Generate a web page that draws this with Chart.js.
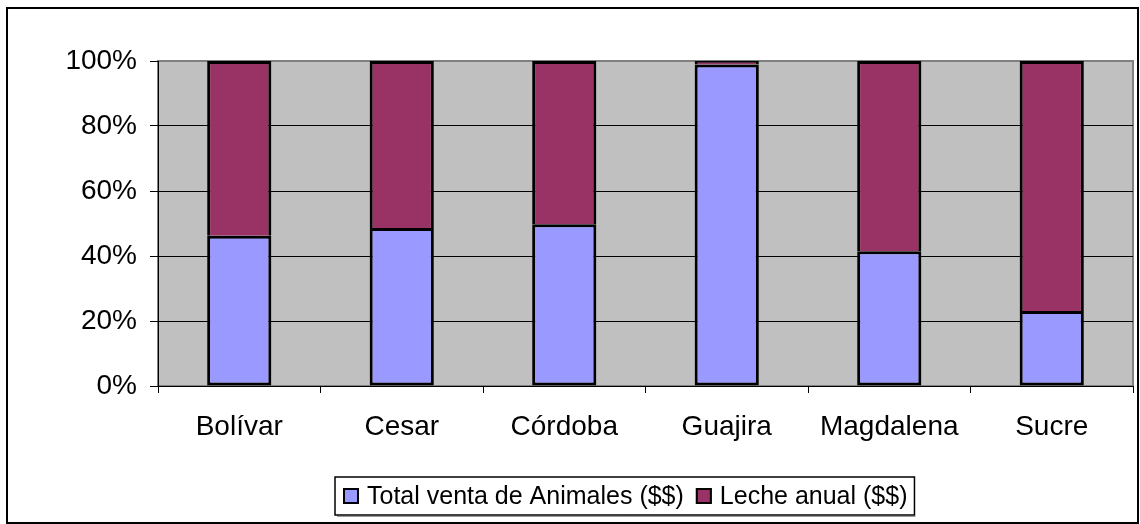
<!DOCTYPE html>
<html>
<head>
<meta charset="utf-8">
<script src="https://cdn.jsdelivr.net/npm/chart.js@4"></script>
<style>
  html, body { margin: 0; padding: 0; background: #fff; }
  #wrap { width: 1140px; height: 524px; }
</style>
</head>
<body>
<div id="wrap"><canvas id="ventasChart" width="1140" height="524"></canvas></div>
<script>
// departamentos
var categorias = ['Bolívar', 'Cesar', 'Córdoba', 'Guajira', 'Magdalena', 'Sucre'];
// porcentajes
var ventaAnimales = [46.2, 48.6, 49.8, 98.9, 41.5, 23.1];
var lecheAnual = [53.8, 51.4, 50.2, 1.1, 58.5, 76.9];
var ticksY = [0, 20, 40, 60, 80, 100];

var fuente = 'Liberation Sans, Arial, sans-serif';

// fondo gris del area de trazado, marco exterior y leyenda con recuadro
var fondoPlugin = {
  id: 'fondo',
  beforeDraw: function(chart) {
    var c = chart.ctx, a = chart.chartArea;
    c.save();
    c.fillStyle = '#fff';
    c.fillRect(0, 0, chart.width, chart.height);
    c.fillStyle = '#C0C0C0';
    c.fillRect(a.left, a.top, a.right - a.left, a.bottom - a.top);
    c.strokeStyle = '#808080';
    c.lineWidth = 2;
    c.strokeRect(a.left, a.top, a.right - a.left, a.bottom - a.top);
    c.restore();
  },
  afterDraw: function(chart) {
    var c = chart.ctx;
    c.save();
    c.strokeStyle = '#000';
    c.lineWidth = 2;
    c.strokeRect(7, 8, chart.width - 9, chart.height - 9);

    // leyenda
    var x = 343, yc = 496;
    c.font = '25px ' + fuente;
    c.textBaseline = 'middle';
    c.textAlign = 'left';
    chart.data.datasets.forEach(function(ds, i) {
      c.fillStyle = ds.backgroundColor;
      c.fillRect(x, yc - 8, 16, 16);
      c.strokeStyle = '#000';
      c.lineWidth = 2;
      c.strokeRect(x + 1, yc - 7, 14, 14);
      c.fillStyle = '#000';
      c.fillText(ds.label, x + 24, yc + 1);
      x += 24 + c.measureText(ds.label).width + 12;
    });
    var w = x - 12 + 7 - 335;
    c.strokeStyle = '#999';
    c.lineWidth = 1;
    c.beginPath();
    c.moveTo(337, 516.5);
    c.lineTo(335 + w + 1, 516.5);
    c.stroke();
    c.strokeStyle = '#000';
    c.lineWidth = 1.5;
    c.strokeRect(335, 477, w, 38);
    c.restore();
  }
};

var ctx = document.getElementById('ventasChart').getContext('2d');
var chart = new Chart(ctx, {
  type: 'bar',
  data: {
    labels: categorias,
    datasets: [{
      label: 'Total venta de Animales ($$)',
      data: ventaAnimales,
      backgroundColor: '#9999FF',
      borderColor: '#000',
      borderWidth: 3,
      borderSkipped: false
    }, {
      label: 'Leche anual ($$)',
      data: lecheAnual,
      backgroundColor: '#993366',
      borderColor: '#000',
      borderWidth: 3,
      borderSkipped: 'start'
    }]
  },
  options: {
    responsive: false,
    animation: false,
    devicePixelRatio: 1,
    layout: { padding: { left: 8, top: 61, right: 7, bottom: 51 } },
    datasets: { bar: { barPercentage: 1, categoryPercentage: 0.395 } },
    scales: {
      x: {
        stacked: true,
        grid: {
          display: true,
          drawOnChartArea: false,
          offset: true,
          color: '#000',
          tickLength: 7
        },
        border: { color: '#000', width: 1 },
        ticks: {
          color: '#000',
          font: { family: fuente, size: 28 },
          padding: 17
        },
        afterFit: function(scale) { scale.height = 87; }
      },
      y: {
        stacked: true,
        min: 0,
        max: 100,
        afterBuildTicks: function(scale) {
          scale.ticks = ticksY.map(function(v) { return { value: v }; });
        },
        grid: {
          color: function(c) { return c.tick && c.tick.value === 100 ? '#808080' : '#000'; },
          lineWidth: 1,
          tickColor: '#000',
          tickLength: 8
        },
        border: { color: '#000', width: 1 },
        ticks: {
          color: '#000',
          font: { family: fuente, size: 28 },
          padding: 13,
          callback: function(v) { return v + '%'; }
        },
        afterFit: function(scale) { scale.width = 150; }
      }
    },
    plugins: {
      legend: { display: false },
      tooltip: { enabled: false }
    }
  },
  plugins: [fondoPlugin]
});
</script>
</body>
</html>
